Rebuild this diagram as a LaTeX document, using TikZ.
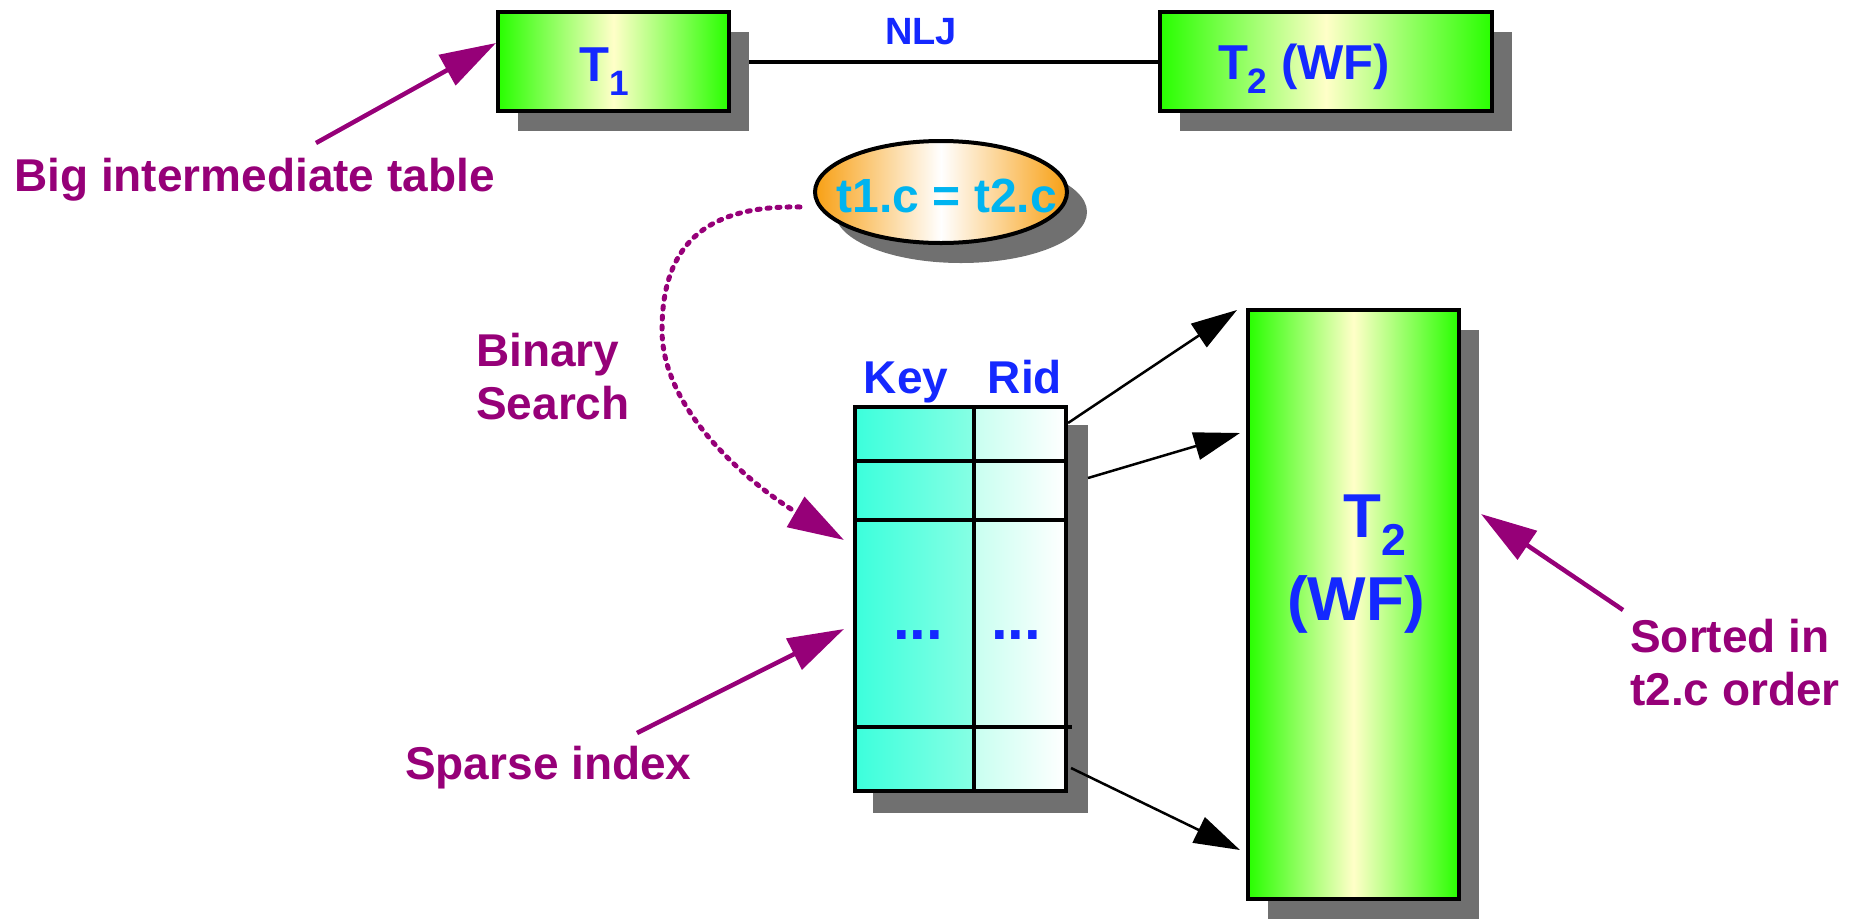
\documentclass[tikz,border=0pt]{standalone}
\usepackage{fontspec}
\setmainfont{Liberation Sans}
\usetikzlibrary{arrows.meta,shapes.geometric,shadows,backgrounds}

\definecolor{plum}{RGB}{150,0,120}
\definecolor{lblue}{RGB}{20,40,255}
\definecolor{sky}{RGB}{0,180,240}
\definecolor{lime}{RGB}{40,255,0}
\definecolor{cream}{RGB}{255,255,200}
\definecolor{shadowgray}{RGB}{112,112,112}
\definecolor{amber}{RGB}{248,160,20}
\definecolor{aqua}{RGB}{60,255,220}
\definecolor{aqualt}{RGB}{135,255,228}
\definecolor{mint}{RGB}{200,255,240}

% lowered, smaller index after a table name
\newcommand\subs[1]{\raisebox{-0.3em}{\scalebox{0.72}{#1}}}

\begin{document}
\begin{tikzpicture}[x=1pt,y=-1pt,
  boxshadow/.style={general shadow={fill=shadowgray, shadow xshift=20pt, shadow yshift=-20pt}},
  greenbox/.style={draw=black, line width=4pt, left color=lime, right color=lime,
    middle color=cream, boxshadow, inner sep=0pt},
  boxtext/.style={text=lblue, font=\bfseries\fontsize{49}{56}\selectfont, inner sep=0pt},
  bigtext/.style={text=lblue, font=\bfseries\fontsize{62}{70}\selectfont, inner sep=0pt},
  note/.style={text=plum, font=\bfseries\fontsize{46}{53}\selectfont, inner sep=0pt},
  head/.style={text=lblue, font=\bfseries\fontsize{46}{53}\selectfont, inner sep=0pt},
  dots/.style={text=lblue, font=\bfseries\fontsize{60}{66}\selectfont, inner sep=0pt},
  pointer/.style={draw=plum, line width=4.5pt, -{Triangle[length=56pt,width=34pt]}},
  link/.style={draw=black, line width=2.5pt, -{Triangle[length=46pt,width=28pt]}},
  cell/.style={draw=black, line width=4pt, inner sep=0pt, minimum height=384pt},
  rowline/.style={draw=black, line width=4pt}
]
\useasboundingbox (0,0) rectangle (1868,919);

% tables of the join
\node[greenbox, minimum width=231pt, minimum height=99pt] (t1) at (613.5,61.5) {};
\node[greenbox, minimum width=332pt, minimum height=99pt] (t2top) at (1326,61.5) {};
\node[greenbox, minimum width=211pt, minimum height=589pt] (t2big) at (1353.5,604.5) {};

\node[boxtext, anchor=base] (t1lbl) at (604,81) {T\subs{1}};
\node[boxtext, anchor=base] (t2toplbl) at (1304,79) {T\subs{2} (WF)};
\node[bigtext, anchor=base] (t2bigA) at (1375,537) {T\subs{2}};
\node[bigtext, anchor=base] (t2bigB) at (1356,620) {(WF)};

\node[text=lblue, font=\bfseries\fontsize{38}{44}\selectfont, inner sep=0pt, anchor=base] (nlj) at (921,44) {NLJ};

% join predicate
\node[ellipse, draw=black, line width=4pt, minimum width=252pt, minimum height=102pt,
  left color=amber, right color=amber, middle color=white, boxshadow, inner sep=0pt] (cond) at (941,192) {};
\node[text=sky, font=\bfseries\fontsize{48}{56}\selectfont, inner sep=0pt] (condtxt) at (947,196) {t1.c = t2.c};

% sparse index
\node[cell, minimum width=119pt, left color=aqua, right color=aqualt] (keycol) at (914.5,599) {};
\node[cell, minimum width=92pt, left color=mint, right color=white] (ridcol) at (1020,599) {};
\draw[rowline] ([yshift=-56pt]keycol.north west) -- ([yshift=-56pt]ridcol.north east);
\draw[rowline] ([yshift=-115pt]keycol.north west) -- ([yshift=-115pt]ridcol.north east);
\draw[rowline] ([yshift=-322pt]keycol.north west) -- ([shift={(4pt,-322pt)}]ridcol.north east);

\node[head, anchor=base] (keyhd) at (906,393) {Key};
\node[head, anchor=base] (ridhd) at (1025,393) {Rid};
\node[dots, anchor=base] (keydots) at (918,639) {...};
\node[dots, anchor=base] (riddots) at (1016,639) {...};

\begin{scope}[on background layer]
  \fill[shadowgray] ([shift={(20pt,-20pt)}]keycol.south west) rectangle ([shift={(20pt,-20pt)}]ridcol.north east);
  \draw[line width=4pt] (t1) -- (t2top);
\end{scope}

% index entries point into the table
\draw[link] ([yshift=-18pt]ridcol.north east) -- ([shift={(-9pt,-2pt)}]t2big.north west);
\draw[link] ([shift={(20pt,-73pt)}]ridcol.north east) -- ([shift={(-6pt,-125pt)}]t2big.north west);
\draw[link] ([shift={(3pt,25pt)}]ridcol.south east) -- ([shift={(-6pt,51pt)}]t2big.south west);

% annotations
\node[note, anchor=base west] (bigtbl) at (14,191) {Big intermediate table};
\node[note, anchor=north west, align=left] (binsrch) at (476,333) {Binary\\Search};
\node[note, anchor=base west] (sparse) at (405,779) {Sparse index};
\node[note, anchor=north west, align=left] (sorted) at (1630,619) {Sorted in\\t2.c order};

\coordinate (bigtail) at (316,143);
\coordinate (sparsetail) at (637,733);
\coordinate (sortedtail) at (1623,610);
\coordinate (searchtail) at (800,207);

\draw[pointer] (bigtail) -- ([yshift=-33pt]t1.north west);
\draw[pointer] (sparsetail) -- ([shift={(-9pt,-224pt)}]keycol.north west);
\draw[pointer] (sortedtail) -- ([shift={(20pt,-206pt)}]t2big.north east);
\draw[pointer, line width=5pt, dash pattern=on 3pt off 7pt, line cap=round] (searchtail)
  .. controls (700,205) and (662,250) .. (662,330)
  .. controls (662,420) and (770,497) .. ([shift={(-9pt,-135pt)}]keycol.north west);
\end{tikzpicture}
\end{document}
